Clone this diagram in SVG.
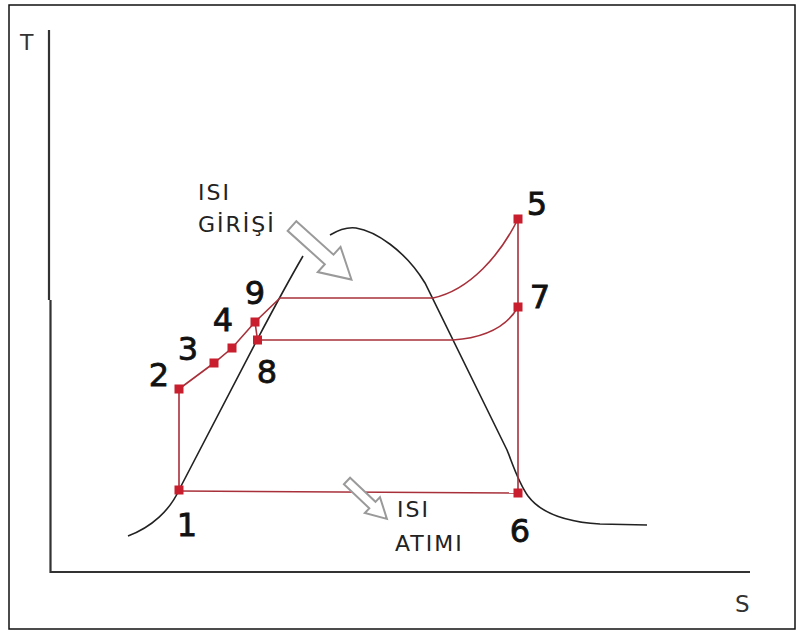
<svg xmlns="http://www.w3.org/2000/svg" width="803" height="634" viewBox="0 0 803 634">
<style>
.frame{fill:#fff;stroke:#111;stroke-width:1.5}
.axis{fill:none;stroke:#333;stroke-width:2.2}
.dome{fill:none;stroke:#222;stroke-width:1.6}
.cyc{fill:none;stroke:#a8303a;stroke-width:1.6}
.pt{fill:#c81e2d}
.num{font-family:"DejaVu Sans",Verdana,sans-serif;font-size:32px;fill:#111;stroke:#111;stroke-width:0.8;text-anchor:middle}
.lbl{font-family:"DejaVu Sans",Verdana,sans-serif;font-size:22px;fill:#222;letter-spacing:2px}
.ax{font-family:"DejaVu Sans",Verdana,sans-serif;fill:#333}
.arr{fill:#fff;stroke:#9a9a9a;stroke-width:2;stroke-linejoin:miter}
</style>
<rect class="frame" x="9" y="5" width="786" height="624"/>
<g id="axes">
<path class="axis" d="M49,30 V300 M50.5,300 V572 H750"/>
<text class="ax" x="20" y="50" font-size="22">T</text>
<text class="ax" x="735" y="612" font-size="23">S</text>
</g>
<g id="saturation-dome">
<path class="dome" d="M128,536 C152,527 170,510 179,490 L257,340 Q285,287 303,256"/>
<path class="dome" d="M330,235 C340,229 348,227 356,228 C375,231 405,250 425,283 L507,450 C512,462 518,482 528,496 C540,512 565,522 600,524 L647,525"/>
</g>
<g id="connectors">
<path class="cyc" d="M179,490 V389 L214,363 L232,348 L255,322 L280,298 H433 C470,290 500,255 518,219"/>
<path class="cyc" d="M255,322 L257.5,340 H453 C480,338 505,330 518,307"/>
<path class="cyc" d="M518,219 V493"/>
<path class="cyc" d="M179,491 L518,493"/>
</g>
<g id="heat-in">
<polygon class="arr" transform="translate(292,226) rotate(42)" points="0,-6.5 50,-6.5 50,-17 80,0 50,17 50,6.5 0,6.5"/>
<text class="lbl" x="198" y="200">ISI</text>
<text class="lbl" x="198" y="232">GİRİŞİ</text>
</g>
<g id="heat-out">
<polygon class="arr" transform="translate(347,481) rotate(43.5)" points="0,-4.5 35,-4.5 35,-11 55,0 35,11 35,4.5 0,4.5"/>
<text class="lbl" x="397" y="517">ISI</text>
<text class="lbl" x="395" y="551">ATIMI</text>
</g>
<g id="p1"><rect class="pt" x="174.5" y="485.5" width="9" height="9"/><text class="num" x="187" y="536">1</text></g>
<g id="p2"><rect class="pt" x="174.5" y="384.5" width="9" height="9"/><text class="num" x="159" y="386">2</text></g>
<g id="p3"><rect class="pt" x="209.5" y="358.5" width="9" height="9"/><text class="num" x="188" y="360">3</text></g>
<g id="p4"><rect class="pt" x="227.5" y="343.5" width="9" height="9"/><text class="num" x="223" y="331">4</text></g>
<g id="p5"><rect class="pt" x="513.5" y="214.5" width="9" height="9"/><text class="num" x="537" y="215">5</text></g>
<g id="p6"><rect class="pt" x="513.5" y="488.5" width="9" height="9"/><text class="num" x="520" y="542">6</text></g>
<g id="p7"><rect class="pt" x="513.5" y="302.5" width="9" height="9"/><text class="num" x="540" y="308">7</text></g>
<g id="p8"><rect class="pt" x="253" y="335.5" width="9" height="9"/><text class="num" x="267" y="383">8</text></g>
<g id="p9"><rect class="pt" x="250.5" y="317.5" width="9" height="9"/><text class="num" x="255" y="304">9</text></g>
</svg>
